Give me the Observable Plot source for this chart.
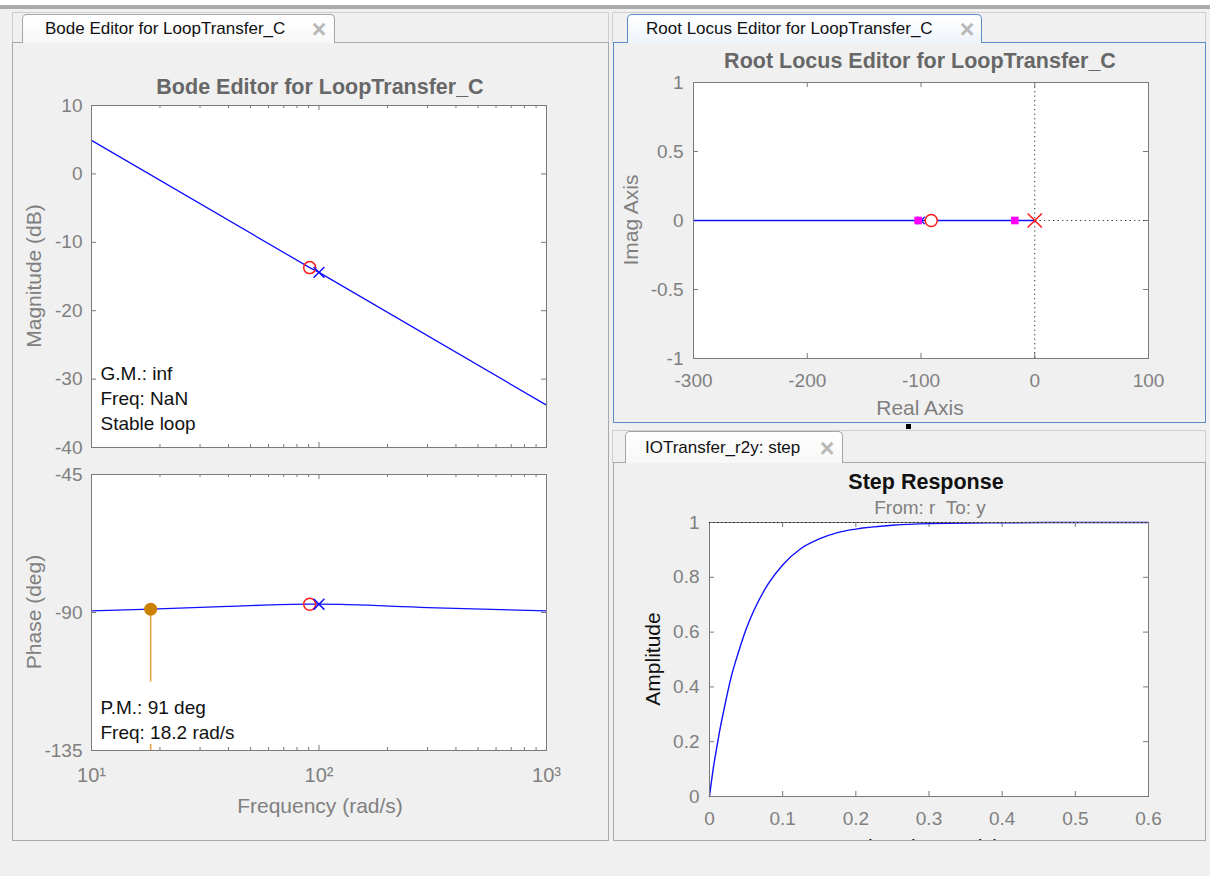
<!DOCTYPE html>
<html><head><meta charset="utf-8">
<script src="https://cdn.jsdelivr.net/npm/d3@7"></script>
<script src="https://cdn.jsdelivr.net/npm/@observablehq/plot@0.6"></script>
<style>
html,body{margin:0;padding:0;background:#f0f0f0;}
#root{position:relative;width:1210px;height:876px;overflow:hidden;background:#f0f0f0;font-family:"Liberation Sans",Arial,sans-serif;}
.box{position:absolute;box-sizing:border-box;}
.tab{position:absolute;box-sizing:border-box;border:1px solid #a5a5a5;border-bottom:none;border-radius:5px 5px 0 0;background:linear-gradient(#ffffff,#f7f7f7);font:17px "Liberation Sans",Arial,sans-serif;color:#111;white-space:pre;z-index:3;}
.tab .lbl{position:absolute;top:50%;transform:translateY(-50%);}
.tab .x{position:absolute;top:50%;transform:translate(-50%,-50%);color:#b8b8b8;font-size:25px;font-weight:bold;}
.t{position:absolute;transform:translate(-50%,-50%);white-space:pre;line-height:1;z-index:4;}
.r{position:absolute;transform:translate(-50%,-50%) rotate(-90deg);white-space:pre;line-height:1;z-index:4;}
.chart{position:absolute;z-index:2;}
</style></head><body><div id="root"></div>
<script>
// ---------- data ----------
const bodeFreq = [10, 91, 100, 1000];
const bodeMagDb = [4.9, -13.7, -14.4, -33.8];
const phaseFreq = [10, 18.2, 40, 91, 100, 300, 1000];
const phaseDeg = [-89.5, -88.9, -88.0, -87.3, -87.3, -88.4, -89.5];
const zeroFreq = [91], zeroMagDb = [-13.7], zeroPhase = [-87.3];
const poleFreq = [100], poleMagDb = [-14.4], polePhase = [-87.3];
const pmFreq = [18.2], pmPhase = [-88.9];
const pmStemFrom = [-88.9, -133], pmStemTo = [-112.7, -135];
const gmLines = ["G.M.: inf", "Freq: NaN", "Stable loop"];
const pmLines = ["P.M.: 91 deg", "Freq: 18.2 rad/s"];
const magTicks = [-40, -30, -20, -10, 0, 10];
const phaseTicks = [-135, -90, -45];
const freqMajor = [10, 100, 1000];
const freqMajorLabels = ["10¹", "10²", "10³"];
const freqMinor = [20, 30, 40, 50, 60, 70, 80, 90, 200, 300, 400, 500, 600, 700, 800, 900];

const locusRe = [-300, 0], locusIm = [0, 0];
const clPolesRe = [-102.5, -17.5], clPolesIm = [0, 0];
const rlZeroRe = [-91], rlPoleRe = [0], rlPlantPoleRe = [-100];
const rlXTicks = [-300, -200, -100, 0, 100];
const rlYTicks = [-1, -0.5, 0, 0.5, 1];

const stepT   = [0, 0.005, 0.01, 0.015, 0.02, 0.03, 0.04, 0.05, 0.06, 0.08, 0.1, 0.125, 0.15, 0.175, 0.2, 0.25, 0.3, 0.4, 0.5, 0.6];
const stepAmp = [0, 0.10, 0.18, 0.255, 0.32, 0.44, 0.53, 0.61, 0.675, 0.775, 0.845, 0.905, 0.94, 0.963, 0.976, 0.99, 0.996, 0.999, 1.0, 1.0];
const stepXTicks = [0, 0.1, 0.2, 0.3, 0.4, 0.5, 0.6];
const stepYTicks = [0, 0.2, 0.4, 0.6, 0.8, 1];

// ---------- styles ----------
const BLUE = "#1010ff", RED = "#ff1a1a", MAGENTA = "#ff00ff";
const AXIS = "#808080", BOX = "#7a7a7a", TITLE = "#676767";
const svgStyle = {background: "transparent", fontFamily: '"Liberation Sans", Arial, sans-serif', fontSize: "19px", color: AXIS, overflow: "visible"};
const root = document.getElementById("root");

function div(cls, css, text) {
  const d = document.createElement("div");
  if (cls) d.className = cls;
  d.style.cssText = css;
  if (text != null) d.textContent = text;
  root.appendChild(d);
  return d;
}
function place(svg, left, top) {
  const d = div("chart", `left:${left}px;top:${top}px;`);
  d.appendChild(svg);
}
function xTicks(vals, innerH, len) {
  return [Plot.ruleX(vals, {insetTop: innerH - len, stroke: BOX}),
          Plot.ruleX(vals, {insetBottom: innerH - len, stroke: BOX})];
}
function yTicks(vals, innerW, len) {
  return [Plot.ruleY(vals, {insetRight: innerW - len, stroke: BOX}),
          Plot.ruleY(vals, {insetLeft: innerW - len, stroke: BOX})];
}
const fmt = d => String(d);

// ---------- window chrome ----------
div("box", "left:0;top:0;width:1210px;height:5px;background:#ffffff;");
div("box", "left:0;top:5px;width:1210px;height:4px;background:#ababab;");
// left group
div("box", "left:12px;top:12px;width:597px;height:31px;border:1px solid #cfcfcf;border-bottom:none;");
div("box", "left:12px;top:42px;width:597px;height:799px;border:1px solid #a9a9a9;");
// right top group
div("box", "left:612px;top:12px;width:594px;height:31px;border:1px solid #cfcfcf;border-bottom:none;");
div("box", "left:613px;top:42px;width:593px;height:381px;border:1px solid #5b8cc9;");
// right bottom group
div("box", "left:612px;top:430px;width:594px;height:33px;border:1px solid #cfcfcf;border-bottom:none;");
div("box", "left:613px;top:462px;width:593px;height:379px;border:1px solid #a9a9a9;");
div("box", "left:906px;top:424px;width:5px;height:5px;background:#000;");

function tab(left, top, w, h, label, pad, xOff, extra) {
  const t = div("tab", `left:${left}px;top:${top}px;width:${w}px;height:${h}px;${extra || ""}`);
  const l = document.createElement("span"); l.className = "lbl"; l.style.left = pad + "px"; l.textContent = label; t.appendChild(l);
  const x = document.createElement("span"); x.className = "x"; x.style.left = xOff + "px"; x.textContent = "×"; t.appendChild(x);
}
tab(22, 14, 313, 29, "Bode Editor for LoopTransfer_C", 22, 296);
tab(627, 14, 355, 29, "Root Locus Editor for LoopTransfer_C", 18, 339, "border-color:#5b8cc9;background:linear-gradient(#ffffff,#eef4fb);");
tab(625, 431, 218, 32, "IOTransfer_r2y: step", 19, 201);

// ---------- Bode magnitude ----------
const magData = bodeFreq.map((f, i) => ({f, v: bodeMagDb[i]}));
const magChart = Plot.plot({
  width: 594, height: 370, marginLeft: 78, marginRight: 61, marginTop: 15, marginBottom: 13,
  x: {type: "log", domain: [10, 1000], axis: null},
  y: {domain: [-40, 10], axis: null},
  style: svgStyle,
  marks: [
    Plot.frame({fill: "white"}),
    ...xTicks(freqMajor, 342, 5), ...xTicks(freqMinor, 342, 3),
    ...yTicks(magTicks, 455, 5),
    Plot.line(magData, {x: "f", y: "v", stroke: BLUE, strokeWidth: 1.3}),
    Plot.dot(zeroFreq.map((f, i) => ({f, v: zeroMagDb[i]})), {x: "f", y: "v", r: 6, stroke: RED, strokeWidth: 1.5}),
    Plot.dot(poleFreq.map((f, i) => ({f, v: poleMagDb[i]})), {x: "f", y: "v", symbol: "times", r: 5, stroke: BLUE, strokeWidth: 1.5}),
    Plot.text([gmLines.join("\n")], {frameAnchor: "bottom-left", dx: 9, dy: -18, lineAnchor: "bottom", lineHeight: 1.316, textAnchor: "start", fill: "#111"}),
    Plot.axisY(magTicks, {tickSize: 0, tickPadding: 9, tickFormat: fmt, label: null}),
    Plot.frame({stroke: BOX})
  ]
});
place(magChart, 13, 90);

// ---------- Bode phase ----------
const phData = phaseFreq.map((f, i) => ({f, v: phaseDeg[i]}));
const stemData = pmStemFrom.map((a, i) => ({f: pmFreq[0], a, b: pmStemTo[i]}));
const phChart = Plot.plot({
  width: 594, height: 377, marginLeft: 78, marginRight: 61, marginTop: 12, marginBottom: 89,
  x: {type: "log", domain: [10, 1000], axis: null},
  y: {domain: [-135, -45], axis: null},
  style: svgStyle,
  marks: [
    Plot.frame({fill: "white"}),
    ...xTicks(freqMajor, 276, 5), ...xTicks(freqMinor, 276, 3),
    ...yTicks(phaseTicks, 455, 5),
    Plot.line(phData, {x: "f", y: "v", stroke: BLUE, strokeWidth: 1.3, curve: "monotone-x"}),
    Plot.ruleX(stemData, {x: "f", y1: "a", y2: "b", stroke: "#e2a445", strokeWidth: 1.6}),
    Plot.dot(pmFreq.map((f, i) => ({f, v: pmPhase[i]})), {x: "f", y: "v", r: 6.5, fill: "#cc8000"}),
    Plot.dot(zeroFreq.map((f, i) => ({f, v: zeroPhase[i]})), {x: "f", y: "v", r: 6, stroke: RED, strokeWidth: 1.5}),
    Plot.dot(poleFreq.map((f, i) => ({f, v: polePhase[i]})), {x: "f", y: "v", symbol: "times", r: 5, stroke: BLUE, strokeWidth: 1.5}),
    Plot.text([pmLines.join("\n")], {frameAnchor: "bottom-left", dx: 9, dy: -12, lineAnchor: "bottom", lineHeight: 1.316, textAnchor: "start", fill: "#111"}),
    Plot.axisY(phaseTicks, {tickSize: 0, tickPadding: 9, tickFormat: fmt, label: null}),
    Plot.axisX(freqMajor, {tickSize: 0, tickPadding: 17, tickFormat: (d) => freqMajorLabels[freqMajor.indexOf(d)], label: null, fontSize: 20}),
    Plot.frame({stroke: BOX})
  ]
});
place(phChart, 13, 462);

// ---------- Root locus ----------
const locusData = locusRe.map((x, i) => ({x, y: locusIm[i]}));
const rlChart = Plot.plot({
  width: 590, height: 378, marginLeft: 79, marginRight: 56, marginTop: 38, marginBottom: 64,
  x: {domain: [-300, 100], axis: null},
  y: {domain: [-1, 1], axis: null},
  style: svgStyle,
  marks: [
    Plot.frame({fill: "white"}),
    ...xTicks(rlXTicks, 276, 5),
    ...yTicks(rlYTicks, 455, 5),
    Plot.ruleX([0], {stroke: "#333", strokeDasharray: "1.3,3.2"}),
    Plot.ruleY([0], {stroke: "#333", strokeDasharray: "1.3,3.2"}),
    Plot.line(locusData, {x: "x", y: "y", stroke: BLUE, strokeWidth: 1.4}),
    Plot.dot(rlPlantPoleRe.map(x => ({x, y: 0})), {x: "x", y: "y", symbol: "times", r: 3.5, stroke: BLUE, strokeWidth: 1.2}),
    Plot.dot(clPolesRe.map((x, i) => ({x, y: clPolesIm[i]})), {x: "x", y: "y", symbol: "square", r: 4.3, fill: MAGENTA}),
    Plot.dot(rlZeroRe.map(x => ({x, y: 0})), {x: "x", y: "y", r: 6, stroke: RED, fill: "white", strokeWidth: 1.5}),
    Plot.dot(rlPoleRe.map(x => ({x, y: 0})), {x: "x", y: "y", symbol: "times", r: 6.5, stroke: RED, strokeWidth: 1.5}),
    Plot.axisY(rlYTicks, {tickSize: 0, tickPadding: 10, tickFormat: fmt, label: null}),
    Plot.axisX(rlXTicks, {tickSize: 0, tickPadding: 15, tickFormat: fmt, label: null}),
    Plot.frame({stroke: BOX})
  ]
});
place(rlChart, 614, 44);

// ---------- Step response ----------
const stepData = stepT.map((t, i) => ({t, a: stepAmp[i]}));
const stepChart = Plot.plot({
  width: 590, height: 376, marginLeft: 95, marginRight: 56, marginTop: 58, marginBottom: 44,
  x: {domain: [0, 0.6], axis: null},
  y: {domain: [0, 1], axis: null},
  style: svgStyle,
  marks: [
    Plot.frame({fill: "white"}),
    ...xTicks(stepXTicks, 274, 5),
    ...yTicks(stepYTicks, 439, 5),
    Plot.line(stepData, {x: "t", y: "a", stroke: BLUE, strokeWidth: 1.4, curve: "monotone-x"}),
    Plot.axisY(stepYTicks, {tickSize: 0, tickPadding: 10, tickFormat: fmt, label: null}),
    Plot.axisX(stepXTicks, {tickSize: 0, tickPadding: 15, tickFormat: fmt, label: null}),
    Plot.frame({stroke: BOX}),
    Plot.ruleY([1], {stroke: "#111", strokeDasharray: "1.3,2.7"})
  ]
});
place(stepChart, 614, 464);

// ---------- titles & axis labels ----------
div("t", `left:320px;top:88px;font-size:21.5px;font-weight:bold;color:${TITLE};`, "Bode Editor for LoopTransfer_C");
div("r", `left:33px;top:276px;font-size:21px;color:${AXIS};`, "Magnitude (dB)");
div("r", `left:33px;top:612px;font-size:21px;color:${AXIS};`, "Phase (deg)");
div("t", `left:320px;top:805px;font-size:21px;color:${AXIS};`, "Frequency (rad/s)");
div("t", `left:920px;top:62px;font-size:21.5px;font-weight:bold;color:${TITLE};`, "Root Locus Editor for LoopTransfer_C");
div("r", `left:630px;top:220px;font-size:21px;color:${AXIS};`, "Imag Axis");
div("t", `left:920px;top:407px;font-size:21px;color:${AXIS};`, "Real Axis");
div("t", "left:926px;top:483px;font-size:21.5px;font-weight:bold;color:#111;", "Step Response");
div("t", `left:930px;top:507px;font-size:19px;color:${AXIS};`, "From: r  To: y");
div("r", "left:652px;top:659px;font-size:21px;color:#111;", "Amplitude");
const clip = div("box", "left:613px;top:462px;width:593px;height:378px;overflow:hidden;z-index:4;");
const tl = document.createElement("div");
tl.className = "t"; tl.style.cssText = "left:315px;top:384px;font-size:21px;color:#111;"; tl.textContent = "Time (seconds)";
clip.appendChild(tl);
</script></body></html>
